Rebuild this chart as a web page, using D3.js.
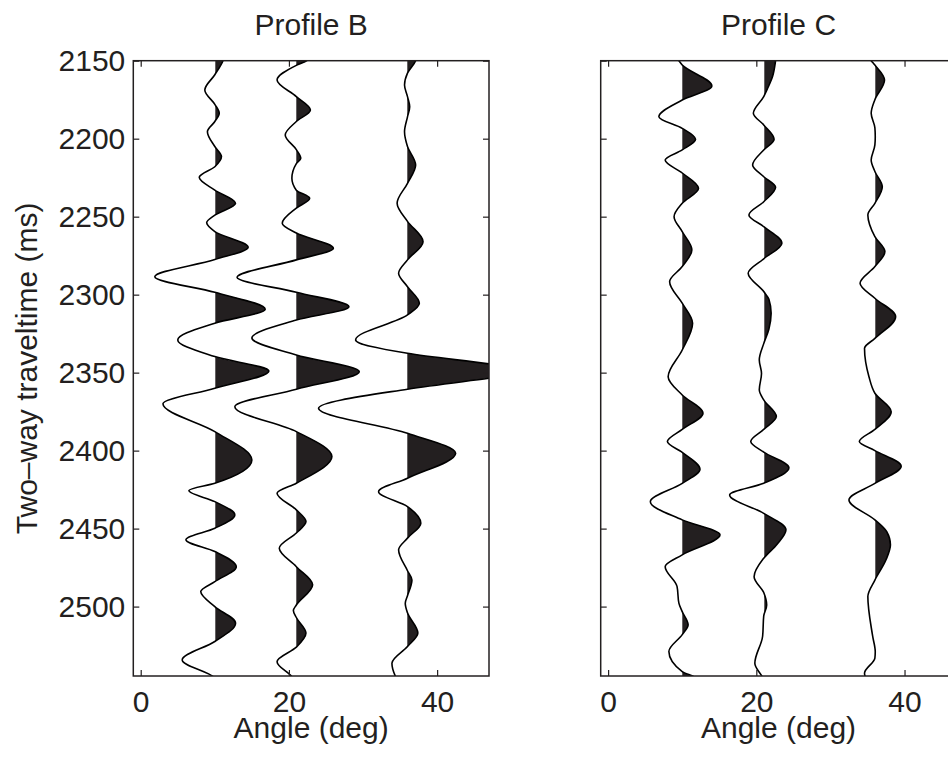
<!DOCTYPE html>
<html>
<head>
<meta charset="utf-8">
<script src="https://cdn.jsdelivr.net/npm/d3@7"></script>
<style>
  body { margin: 0; background: #fff; }
  text { font-family: "Liberation Sans", Arial, sans-serif; fill: #231f20; }
</style>
</head>
<body>
<div id="chart"></div>
<script>
// ticks and ranges
var timeTicks = [2150, 2200, 2250, 2300, 2350, 2400, 2450, 2500];
var angleTicks = [0, 20, 40];
var timeDomain = [2150, 2544.5];
var angleDomain = [-1, 47];
var traceAngles = [10, 21, 36];

// traces : [time (ms), amplitude (deg offset from the trace angle)]
var profileB_10 = [[2140,1.5],[2150,1.1],[2159,0],[2168.8,-1.35],[2178,0],[2183.7,0.6],[2189,0],[2195.5,-1.0],[2205,0],[2211.5,0.9],[2218,0],[2224.8,-2.1],[2233,0],[2241.4,2.8],[2249,0],[2253.8,-1.1],[2259.6,0],[2269.6,4.5],[2277.5,0],[2288.5,-8.1],[2298.5,0],[2309.4,6.8],[2318.3,0],[2329,-5.0],[2339.7,0],[2349,7.3],[2360,0],[2370,-7.0],[2387.8,0],[2406,5.0],[2420.9,0],[2425.6,-3.5],[2432.7,0],[2441.2,2.7],[2449.8,0],[2457.2,-3.9],[2464.7,0],[2474.4,2.9],[2484,0],[2490.4,-1.9],[2500,0],[2510.6,2.8],[2522.4,0],[2534.2,-4.4],[2545,-0.2],[2550,0.5]];
var profileB_21 = [[2140,2.5],[2150,1.4],[2153,0],[2162.4,-2.6],[2173,0],[2181.6,1.9],[2189,0],[2197.6,-1.5],[2207,0],[2212.6,0.6],[2216,0],[2225.4,-0.6],[2233,0],[2238.2,1.8],[2244.5,0],[2254.2,-1.9],[2260.5,0],[2270.3,5.0],[2277.7,0],[2288.9,-8.0],[2298.5,0],[2307.7,7.1],[2316.3,0],[2327.8,-6.0],[2338.7,0],[2349.4,8.5],[2360.6,0],[2371.8,-8.3],[2387.8,0],[2403.8,4.8],[2420.9,0],[2427.3,-2.6],[2438,0],[2445.5,1.3],[2452.8,0],[2462.6,-2.3],[2474.4,0],[2486,2.2],[2499,0],[2502.5,-0.4],[2507,0],[2517,1.3],[2526,0],[2535.3,-2.6],[2545,-0.6],[2550,0]];
var profileB_36 = [[2140,1.5],[2150,1.1],[2158,0],[2165.6,-0.4],[2173,0],[2179.5,0.3],[2186,0],[2195.5,-0.4],[2205,0],[2216.9,1.1],[2228.6,0],[2241.4,-1.4],[2253,0],[2266,2.1],[2277.7,0],[2286.3,-1.2],[2294.9,0],[2305.5,1.6],[2313,0],[2329,-7.0],[2337.6,0],[2344.4,11],[2349.2,18],[2353.6,11],[2360.6,0],[2372.8,-12.0],[2388.9,0],[2401.7,6.5],[2417.7,0],[2426.3,-3.9],[2435.9,0],[2446.5,1.8],[2456.1,0],[2463.6,-1.2],[2477,0],[2482.9,0.6],[2493,0],[2497.8,-0.3],[2504,0],[2517,1.4],[2525.6,0],[2536.3,-2.1],[2545,-1.6],[2550,-1]];

var profileC_10 = [[2140,-2],[2150,-0.45],[2152.8,0],[2166.2,4.0],[2175.2,0],[2185.9,-3.15],[2193.4,0],[2200.4,1.8],[2207.2,0],[2213.7,-2.3],[2222,0],[2231.8,2.2],[2241.4,0],[2250,-1.1],[2259.6,0],[2271.3,1.3],[2282,0],[2291.7,-1.7],[2305.5,0],[2318.3,1.4],[2335.5,0],[2352.6,-1.9],[2364.3,0],[2376,2.8],[2386.4,0],[2394.2,-2.0],[2401.1,0],[2412,2.4],[2421,0],[2432.7,-4.3],[2444.4,0],[2454,5.1],[2466.8,0],[2474.4,-2.3],[2487,-0.7],[2497.8,-0.45],[2503.2,0],[2511.7,0.8],[2518,0],[2528.8,-1.8],[2541.7,0],[2545,1.6],[2550,3]];
var profileC_21 = [[2140,1.8],[2150,1.6],[2160,1.2],[2168,0.5],[2173,0],[2183.7,-1.4],[2191.2,0],[2200.4,1.4],[2207.2,0],[2216.9,-1.5],[2224.4,0],[2231.2,1.6],[2240.4,0],[2248.9,-2.0],[2256.4,0],[2267,2.45],[2277,0],[2286.3,-2.1],[2298,0],[2303,0.7],[2312,1.0],[2322,0.7],[2331.4,0],[2341.9,-0.6],[2350.5,-0.3],[2361,-0.6],[2367.5,0],[2378.2,1.7],[2386.4,0],[2394.2,-1.75],[2401,0],[2411,3.4],[2420.9,0],[2428.4,-4.6],[2440.2,0],[2450.8,3.0],[2460,1.8],[2469,0],[2480.8,-1.3],[2491,0],[2499,0.4],[2506,0],[2519,-0.15],[2536.3,-1.2],[2545,-0.2],[2550,0.3]];
var profileC_36 = [[2140,-1.5],[2150,-0.5],[2152.8,0],[2162.4,1.3],[2175,0],[2183.7,-0.5],[2193,0],[2198.7,0.05],[2204,0],[2213.7,-0.5],[2221,0],[2230.8,1.0],[2241.4,0],[2248.9,-0.95],[2262.8,0],[2272.4,1.35],[2282,0],[2292.7,-2.0],[2302.3,0],[2314.1,2.8],[2328,0],[2334.4,-1.4],[2352.6,-0.8],[2363.2,0],[2375,2.2],[2386.4,0],[2394.2,-2.1],[2400,0],[2410,3.55],[2421,0],[2431.6,-3.5],[2444.4,0],[2452,1.6],[2460.4,2.1],[2470,1.5],[2483,0],[2493.6,-0.95],[2519,-0.3],[2529,0.05],[2533,0],[2542.7,-1.4],[2545,-1.3],[2550,-0.8]];

var panels = [
  {title: "Profile B", left: 133.3, traces: [profileB_10, profileB_21, profileB_36], labels: true},
  {title: "Profile C", left: 600.7, traces: [profileC_10, profileC_21, profileC_36], labels: false}
];

var W = 948, H = 761;
var plotTop = 60.7, width = 355.7, height = 615.3;
var fontSize = "30px";
var ink = "#231f20";

var svg = d3.select("#chart")
  .append("svg")
    .attr("width", W)
    .attr("height", H);

panels.forEach(function(p, pi) {
  var x = d3.scaleLinear().domain(angleDomain).range([0, width]);
  var y = d3.scaleLinear().domain(timeDomain).range([0, height]);

  var g = svg.append("g")
    .attr("transform", "translate(" + p.left + "," + plotTop + ")");

  var defs = g.append("defs");
  defs.append("clipPath").attr("id", "plot" + pi)
    .append("rect").attr("width", width).attr("height", height);

  p.traces.forEach(function(tr, ti) {
    var base = traceAngles[ti];
    // fill only the positive side, clip edge snapped to a pixel so no hairline shows
    var cx = Math.round(p.left + x(base)) + 0.3 - p.left;
    defs.append("clipPath").attr("id", "pos" + pi + "_" + ti)
      .append("rect")
        .attr("x", cx)
        .attr("width", width - cx)
        .attr("height", height);

    var area = d3.area()
      .y(function(d) { return y(d[0]); })
      .x0(x(base) - 2)
      .x1(function(d) { return x(base + d[1]); })
      .curve(d3.curveMonotoneY);

    var line = d3.line()
      .y(function(d) { return y(d[0]); })
      .x(function(d) { return x(base + d[1]); })
      .curve(d3.curveMonotoneY);

    g.append("path")
      .datum(tr)
      .attr("d", area)
      .attr("fill", ink)
      .attr("clip-path", "url(#pos" + pi + "_" + ti + ")");

    g.append("path")
      .datum(tr)
      .attr("d", line)
      .attr("fill", "none")
      .attr("stroke", "#000")
      .attr("stroke-width", 1.6)
      .attr("clip-path", "url(#plot" + pi + ")");
  });

  // axes, ticks pointing inward like matlab
  g.append("g")
    .call(d3.axisLeft(y).tickValues(timeTicks).tickSizeInner(-6).tickSizeOuter(0).tickPadding(8)
      .tickFormat(p.labels ? d3.format("d") : ""));
  g.append("g")
    .attr("transform", "translate(" + width + ",0)")
    .call(d3.axisRight(y).tickValues(timeTicks).tickSizeInner(-6).tickSizeOuter(0).tickFormat(""));
  g.append("g")
    .attr("transform", "translate(0," + height + ")")
    .call(d3.axisBottom(x).tickValues(angleTicks).tickSizeInner(-6).tickSizeOuter(0).tickPadding(15));
  g.append("g")
    .call(d3.axisTop(x).tickValues(angleTicks).tickSizeInner(-6).tickSizeOuter(0).tickFormat(""));

  g.selectAll(".domain").remove();
  g.selectAll(".tick line").attr("stroke", ink).attr("stroke-width", 1.2);
  g.selectAll(".tick text").style("font-size", fontSize).attr("fill", ink);

  g.append("rect")
    .attr("width", width)
    .attr("height", height)
    .attr("fill", "none")
    .attr("stroke", ink)
    .attr("stroke-width", 1.5);

  g.append("text")
    .attr("x", width / 2)
    .attr("y", 35 - plotTop)
    .attr("text-anchor", "middle")
    .style("font-size", fontSize)
    .text(p.title);

  g.append("text")
    .attr("x", width / 2)
    .attr("y", 738 - plotTop)
    .attr("text-anchor", "middle")
    .style("font-size", fontSize)
    .text("Angle (deg)");

  if (p.labels) {
    g.append("text")
      .attr("transform", "translate(" + (37 - p.left) + "," + (height / 2) + ") rotate(-90)")
      .attr("text-anchor", "middle")
      .style("font-size", fontSize)
      .text("Two\u2013way traveltime (ms)");
  }
});
</script>
</body>
</html>
